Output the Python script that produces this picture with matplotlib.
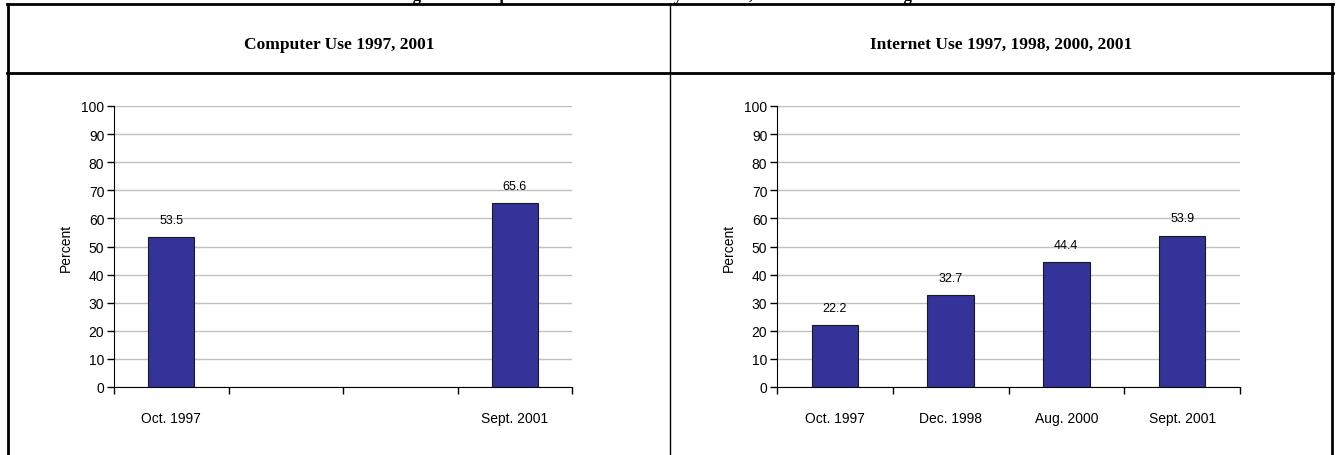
import matplotlib
matplotlib.use("Agg")
import matplotlib.pyplot as plt
import numpy as np
from matplotlib.lines import Line2D

plt.rcParams["font.family"] = ["Liberation Sans", "DejaVu Sans"]

# data
categories = ["Oct. 1997", "Dec. 1998", "Aug. 2000", "Sept. 2001"]
computer_labels = ["Oct. 1997", "", "", "Sept. 2001"]
computer_use = [53.5, np.nan, np.nan, 65.6]
internet_use = [22.2, 32.7, 44.4, 53.9]
panel_titles = ["Computer Use 1997, 2001", "Internet Use 1997, 1998, 2000, 2001"]
fig_title = "Figure 1. Computer and Internet Use by Location, Percent of Persons Age 3+"

W, H = 1340, 456
BAR = "#333399"

fig = plt.figure(figsize=(W / 100, H / 100), dpi=100)


def px_rect(x0, x1, y_top, y_bot):
    return [x0 / W, 1 - y_bot / H, (x1 - x0) / W, (y_bot - y_top) / H]


def draw_panel(ax, labels, values):
    x = np.arange(len(labels))
    ax.bar(x, values, width=0.4, color=BAR, edgecolor="#1a1a1a", linewidth=0.8, zorder=3)
    for xi, v in zip(x, values):
        if np.isnan(v):
            continue
        ax.annotate(f"{v:.1f}", (xi, v), xytext=(0, 8), textcoords="offset points",
                    ha="center", va="bottom", fontsize=9)
    ax.set_xlim(-0.5, len(labels) - 0.5)
    ax.set_ylim(0, 100)
    ax.set_yticks(np.arange(0, 101, 10))
    ax.yaxis.grid(True, color="#c0c0c0", linewidth=1, zorder=0)
    ax.set_axisbelow(True)
    ax.set_xticks(x)
    ax.set_xticklabels(labels, fontsize=10)
    ax.set_xticks(np.arange(-0.5, len(labels)), minor=True)
    ax.tick_params(axis="x", which="major", length=0, pad=17)
    ax.tick_params(axis="x", which="minor", length=5, width=1)
    ax.tick_params(axis="y", length=5, width=1, labelsize=10, pad=2)
    for s in ("top", "right"):
        ax.spines[s].set_visible(False)
    ax.spines["left"].set_color("black")
    ax.spines["bottom"].set_color("black")
    ax.set_ylabel("Percent", fontsize=10, labelpad=6)


ax1 = fig.add_axes(px_rect(114, 572, 107, 388))
draw_panel(ax1, computer_labels, computer_use)
ax2 = fig.add_axes(px_rect(777, 1240, 107, 388))
draw_panel(ax2, categories, internet_use)


# table frame
def hline(y, x0, x1, lw):
    fig.add_artist(Line2D([x0 / W, x1 / W], [1 - y / H, 1 - y / H], color="black", linewidth=lw))


def vline(x, y0, y1, lw):
    fig.add_artist(Line2D([x / W, x / W], [1 - y0 / H, 1 - y1 / H], color="black", linewidth=lw))


hline(5, 7, 1333, 2)
hline(74, 7, 1333, 2)
vline(8, 5, H, 2)
vline(1332, 5, H, 2)
vline(670, 5, H, 1)

for cx, t in zip([339, 1001], panel_titles):
    fig.text(cx / W, 1 - 45 / H, t, ha="center", va="center", fontsize=12.5,
             fontweight="bold", family="Liberation Serif")

# figure caption sits above the frame and is cut by the page edge, as in the source
fig.text(0.5, 1 - (-4) / H, fig_title, ha="center", va="center", fontsize=12,
         fontweight="bold", family="Liberation Serif")

fig.savefig("out.png", dpi=100)
